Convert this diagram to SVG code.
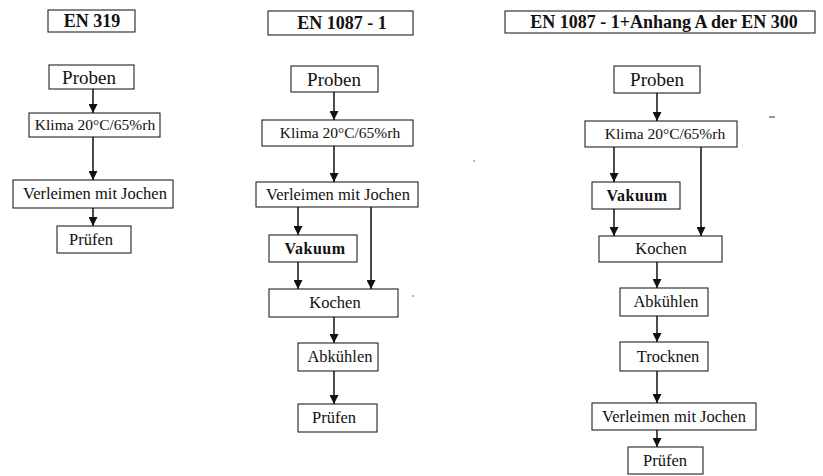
<svg xmlns="http://www.w3.org/2000/svg" width="823" height="476" viewBox="0 0 823 476">
<defs>
<marker id="ah" markerUnits="userSpaceOnUse" markerWidth="9" markerHeight="9" refX="8" refY="4" orient="auto" viewBox="0 0 8 8">
<path d="M0,0 L8,4 L0,8 Z" fill="#111"/>
</marker>
</defs>
<style>
.box{fill:#fff;stroke:#222;stroke-width:1.1}
.t{font-family:"Liberation Serif","Times New Roman",Times,serif;font-size:16.5px;fill:#111;text-anchor:middle}
.k{font-size:15.5px}
.p{font-size:19px}
.h{font-size:18px;font-weight:bold}
.v{font-weight:bold;font-size:16px;letter-spacing:0.5px}
.c{fill:none;stroke:#111;stroke-width:1.5}
.a{marker-end:url(#ah)}
</style>
<rect width="823" height="476" fill="#fff"/>

<!-- Column 1: EN 319 -->
<g id="h1"><rect class="box" x="48" y="10" width="87" height="22"/><text class="t h" x="92" y="27">EN 319</text></g>
<g id="c1-proben"><rect class="box" x="49" y="65" width="85" height="24"/><text class="t p" x="89" y="84">Proben</text></g>
<g id="c1-klima"><rect class="box" x="29" y="113" width="131" height="24"/><text class="t k" x="95" y="130">Klima 20°C/65%rh</text></g>
<g id="c1-verleimen"><rect class="box" x="13" y="180" width="160" height="28"/><text class="t" x="95" y="199">Verleimen mit Jochen</text></g>
<g id="c1-pruefen"><rect class="box" x="57" y="226" width="74" height="27"/><text class="t" x="91" y="245">Prüfen</text></g>

<!-- Column 2: EN 1087 - 1 -->
<g id="h2"><rect class="box" x="268" y="11" width="145" height="24"/><text class="t h" x="342" y="29">EN 1087 - 1</text></g>
<g id="c2-proben"><rect class="box" x="291" y="66" width="87" height="26"/><text class="t p" x="334" y="86">Proben</text></g>
<g id="c2-klima"><rect class="box" x="262" y="120" width="151" height="26"/><text class="t k" x="340" y="138">Klima 20°C/65%rh</text></g>
<g id="c2-verleimen"><rect class="box" x="256" y="182" width="162" height="25"/><text class="t" x="338" y="200">Verleimen mit Jochen</text></g>
<g id="c2-vakuum"><rect class="box" x="269" y="235" width="88" height="27"/><text class="t v" x="315" y="254">Vakuum</text></g>
<g id="c2-kochen"><rect class="box" x="269" y="289" width="129" height="28"/><text class="t" x="335" y="308">Kochen</text></g>
<g id="c2-abkuehlen"><rect class="box" x="298" y="343" width="80" height="28"/><text class="t" x="340" y="362">Abkühlen</text></g>
<g id="c2-pruefen"><rect class="box" x="298" y="404" width="79" height="28"/><text class="t" x="334" y="423">Prüfen</text></g>

<!-- Column 3: EN 1087 - 1+Anhang A der EN 300 -->
<g id="h3"><rect class="box" x="505" y="11" width="310" height="22"/><text class="t h" x="664" y="28">EN 1087 - 1+Anhang A der EN 300</text></g>
<g id="c3-proben"><rect class="box" x="614" y="66" width="86" height="27"/><text class="t p" x="657" y="86">Proben</text></g>
<g id="c3-klima"><rect class="box" x="585" y="121" width="152" height="26"/><text class="t k" x="665" y="139">Klima 20°C/65%rh</text></g>
<g id="c3-vakuum"><rect class="box" x="592" y="182" width="88" height="27"/><text class="t v" x="637" y="201">Vakuum</text></g>
<g id="c3-kochen"><rect class="box" x="599" y="236" width="123" height="26"/><text class="t" x="661" y="254">Kochen</text></g>
<g id="c3-abkuehlen"><rect class="box" x="620" y="288" width="88" height="28"/><text class="t" x="666" y="307">Abkühlen</text></g>
<g id="c3-trocknen"><rect class="box" x="620" y="342" width="88" height="29"/><text class="t" x="668" y="362">Trocknen</text></g>
<g id="c3-verleimen"><rect class="box" x="592" y="403" width="164" height="27"/><text class="t" x="674" y="422">Verleimen mit Jochen</text></g>
<g id="c3-pruefen"><rect class="box" x="628" y="447" width="75" height="27"/><text class="t" x="665" y="466">Prüfen</text></g>

<g id="connectors">
<!-- col 1 -->
<line class="c a" x1="93" y1="89" x2="93" y2="113"/>
<line class="c a" x1="93" y1="137" x2="93" y2="180"/>
<line class="c a" x1="93" y1="208" x2="93" y2="226"/>
<!-- col 2 -->
<line class="c a" x1="334" y1="92" x2="334" y2="120"/>
<line class="c a" x1="334" y1="146" x2="334" y2="182"/>
<line class="c a" x1="298" y1="207" x2="298" y2="235"/>
<line class="c a" x1="298" y1="262" x2="298" y2="289"/>
<line class="c a" x1="371" y1="207" x2="371" y2="289"/>
<line class="c a" x1="334" y1="317" x2="334" y2="343"/>
<line class="c a" x1="334" y1="371" x2="334" y2="404"/>
<!-- col 3 -->
<line class="c a" x1="657" y1="93" x2="657" y2="121"/>
<line class="c a" x1="614" y1="147" x2="614" y2="182"/>
<line class="c a" x1="701" y1="147" x2="701" y2="236"/>
<line class="c a" x1="614" y1="209" x2="614" y2="236"/>
<line class="c a" x1="657" y1="262" x2="657" y2="288"/>
<line class="c a" x1="657" y1="316" x2="657" y2="342"/>
<line class="c a" x1="657" y1="371" x2="657" y2="403"/>
<line class="c a" x1="657" y1="430" x2="657" y2="447"/>
</g>

<!-- scan marks -->
<line x1="769" y1="117" x2="775" y2="117" stroke="#333" stroke-width="1"/>
<circle cx="474" cy="161" r="0.8" fill="#555"/>
<circle cx="413" cy="296" r="0.8" fill="#555"/>
</svg>
